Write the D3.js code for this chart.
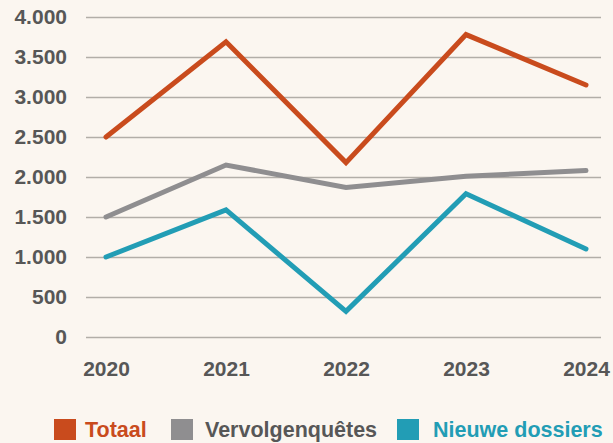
<!DOCTYPE html>
<html>
<head>
<meta charset="utf-8">
<script src="https://cdn.jsdelivr.net/npm/d3@7"></script>
<style>
  body { margin: 0; background: #fbf6f0; }
  text { font-family: "Liberation Sans", Arial, sans-serif; font-weight: bold; }
</style>
</head>
<body>
<div id="chart"></div>
<script>
// data
let years = ["2020", "2021", "2022", "2023", "2024"];
let totaal = [2500, 3690, 2180, 3780, 3150];
let vervolg = [1500, 2150, 1870, 2010, 2080];
let nieuwe = [1000, 1590, 320, 1790, 1100];
let yTicks = [0, 500, 1000, 1500, 2000, 2500, 3000, 3500, 4000];

let seriesNames = ["Totaal", "Vervolgenquêtes", "Nieuwe dossiers"];
let colors = ["#c94b1d", "#8f8e90", "#229db5"];

let svgWidth = 613;
let svgHeight = 443;

let svg = d3.select("#chart")
    .append("svg")
    .attr("width", svgWidth)
    .attr("height", svgHeight);

svg.append("rect")
    .attr("width", svgWidth)
    .attr("height", svgHeight)
    .attr("fill", "#fbf6f0");

let xScale = d3.scalePoint()
    .domain(years)
    .range([106, 586]);

let yScale = d3.scaleLinear()
    .domain([0, 4000])
    .range([337, 17]);

let fmt = d3.formatLocale({ decimal: ",", thousands: ".", grouping: [3], currency: ["€", ""] }).format(",");

// gridlines + y labels
let yAxis = d3.axisLeft(yScale)
    .tickValues(yTicks)
    .tickFormat(fmt)
    .tickSize(-515)
    .tickPadding(19);

let yG = svg.append("g")
    .attr("transform", "translate(86,0)")
    .call(yAxis);
yG.select(".domain").remove();
yG.selectAll(".tick line")
    .attr("stroke", "#b2aea8")
    .attr("stroke-width", 1.5);
yG.selectAll(".tick text")
    .attr("fill", "#575757")
    .attr("font-size", 21)
    .attr("font-family", "Liberation Sans, Arial, sans-serif")
    .attr("font-weight", "bold");

// x labels
let xAxis = d3.axisBottom(xScale)
    .tickSize(0)
    .tickPadding(0);

let xG = svg.append("g")
    .attr("transform", "translate(0,361)")
    .call(xAxis);
xG.select(".domain").remove();
xG.selectAll(".tick text")
    .attr("fill", "#575757")
    .attr("font-size", 21)
    .attr("font-family", "Liberation Sans, Arial, sans-serif")
    .attr("font-weight", "bold");

// lines
let line = d3.line()
    .x((d, i) => xScale(years[i]))
    .y(d => yScale(d));

[totaal, vervolg, nieuwe].forEach(function(series, i) {
    svg.append("path")
        .datum(series)
        .attr("d", line)
        .attr("fill", "none")
        .attr("stroke", colors[i])
        .attr("stroke-width", 5)
        .attr("stroke-linejoin", "miter")
        .attr("stroke-linecap", "round");
});

// legend (fixed slots like the original)
let legendSlots = [54, 171, 397];
let textOffsets = [31, 34, 36];
seriesNames.forEach(function(name, i) {
    let g = svg.append("g").attr("transform", `translate(${legendSlots[i]},419)`);
    g.append("rect")
        .attr("width", 22)
        .attr("height", 21)
        .attr("fill", colors[i]);
    g.append("text")
        .attr("x", textOffsets[i])
        .attr("y", 18)
        .attr("font-size", 21.5)
        .attr("fill", i === 1 ? "#575757" : colors[i])
        .text(name);
});
</script>
</body>
</html>
